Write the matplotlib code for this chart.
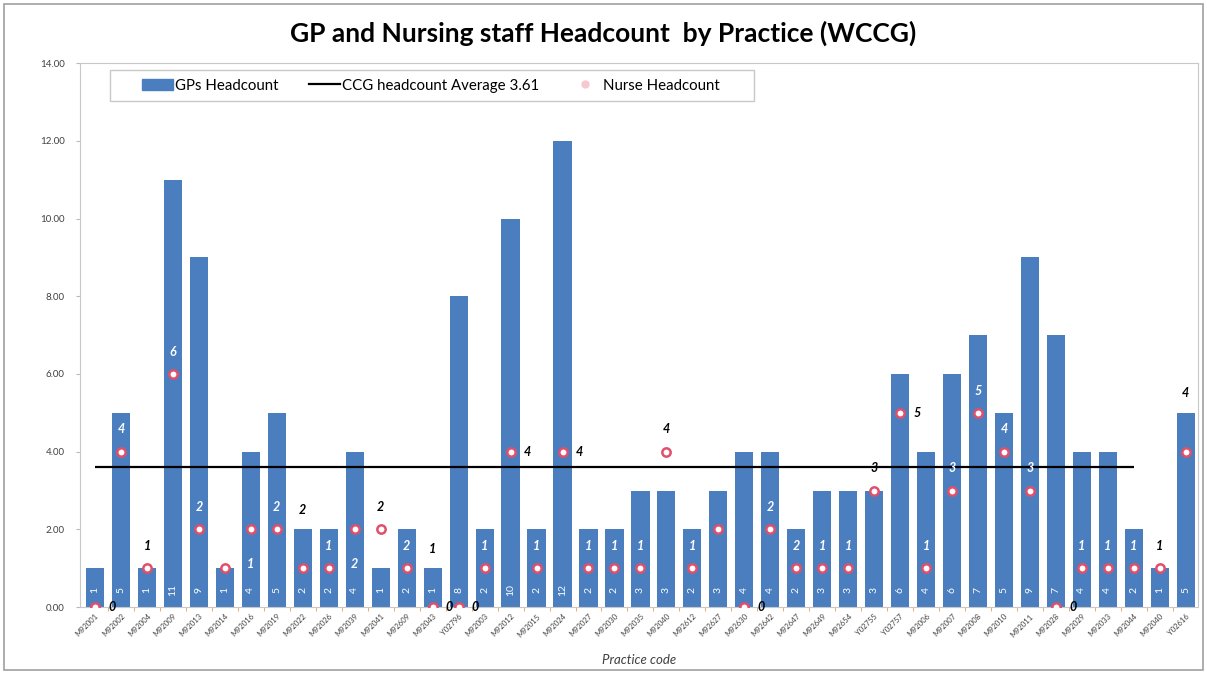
import numpy as np
import matplotlib
matplotlib.use('Agg')
from matplotlib import pyplot as plt
from matplotlib.patches import Rectangle
from matplotlib.lines import Line2D

plt.rcParams['font.family'] = ['Lato', 'DejaVu Sans']

practices = ['M92001', 'M92002', 'M92004', 'M92009', 'M92013', 'M92014', 'M92016', 'M92019',
             'M92022', 'M92026', 'M92039', 'M92041', 'M92609', 'M92043', 'Y02796', 'M92003',
             'M92012', 'M92015', 'M92024', 'M92027', 'M92030', 'M92035', 'M92040', 'M92612',
             'M92627', 'M92630', 'M92642', 'M92647', 'M92649', 'M92654', 'Y02755', 'Y02757',
             'M92006', 'M92007', 'M92008', 'M92010', 'M92011', 'M92028', 'M92029', 'M92033',
             'M92044', 'M92040', 'Y02616']
gp_headcount = [1, 5, 1, 11, 9, 1, 4, 5, 2, 2, 4, 1, 2, 1, 8, 2, 10, 2, 12, 2, 2, 3,
                3, 2, 3, 4, 4, 2, 3, 3, 3, 6, 4, 6, 7, 5, 9, 7, 4, 4, 2, 1, 5]
nurse_headcount = [0, 4, 1, 6, 2, 1, 2, 2, 1, 1, 2, 2, 1, 0, 0, 1, 4, 1, 4, 1, 1, 1,
                   4, 1, 2, 0, 2, 1, 1, 1, 3, 5, 1, 3, 5, 4, 3, 0, 1, 1, 1, 1, 4]
# data labels as shown on the chart (some are offset/odd in the original)
nurse_labels = ['0', '4', '1', '6', '2', '', '1', '2', '2', '1', '2', '2', '2', '0', '0', '1',
                '4', '1', '4', '1', '1', '1', '4', '1', '', '0', '2', '2', '1', '1', '3', '5',
                '1', '3', '5', '4', '3', '0', '1', '1', '1', '1', '4']
label_mode = ['r', 'a', 'a', 'a', 'a', '', 'b', 'a', 't', 'a', 'b', 'a', 'a', 'r', 'r', 'a',
              'r', 'a', 'r', 'a', 'a', 'a', 'a', 'a', '', 'r', 'a', 'a', 'a', 'a', 'a', 'r',
              'a', 'a', 'a', 'a', 'a', 'r', 'a', 'a', 'a', 'a', 't']
extra_labels = [(13, '1')]
ccg_average = 3.61
avg_span = (0, 40)

blue = '#4a7ebf'
nurse_col = '#e0506a'

fig = plt.figure(figsize=(12.07, 6.73), dpi=100)
ax = fig.add_axes([0.0663, 0.098, 0.926, 0.808])

x = np.arange(len(practices))
ax.bar(x, gp_headcount, width=0.7, color=blue, zorder=2)
ax.hlines(ccg_average, avg_span[0], avg_span[1], color='black', lw=1.6, zorder=3)
ax.plot(x, nurse_headcount, ls='none', marker='o', ms=6, mfc='white',
        mec=nurse_col, mew=1.8, zorder=4)

# GP values at the base of each bar
for xi, g in zip(x, gp_headcount):
    ax.text(xi, 0.45, str(g), rotation=90, ha='center', va='center',
            color='white', fontsize=7.5, zorder=5)

# nurse labels
def put_label(xi, txt, mode):
    yv = nurse_headcount[xi]
    if mode == 'r':
        off = (12, 0)
        ly = yv
    elif mode == 'b':
        off = (0, -25)
        ly = yv - 0.65
    elif mode == 't':
        yv = gp_headcount[xi]
        off = (0, 14)
        ly = yv + 0.4
    else:
        off = (0, 16)
        ly = yv + 0.42
    col = 'white' if ly < gp_headcount[xi] - 0.1 and mode != 'r' else 'black'
    ax.annotate(txt, (xi, yv), xytext=off, textcoords='offset points',
                ha='center', va='center', fontsize=9, fontweight='bold',
                fontstyle='italic', color=col, zorder=6)

for xi, (t, m) in enumerate(zip(nurse_labels, label_mode)):
    if t:
        put_label(xi, t, m)
for xi, t in extra_labels:
    put_label(xi, t, 't')

ax.set_xlim(-0.58, len(practices) - 0.54)
ax.set_ylim(0, 14)
ax.set_yticks(np.arange(0, 14.01, 2))
ax.set_yticklabels(['%.2f' % v for v in np.arange(0, 14.01, 2)], fontsize=7, color='#404040')
ax.set_xticks(x)
ax.set_xticklabels(practices, rotation=45, ha='right', rotation_mode='anchor',
                   fontsize=5.5, color='#404040')
ax.tick_params(axis='x', length=0, pad=4)
ax.set_xticks(x[:-1] + 0.5, minor=True)
ax.tick_params(axis='x', which='minor', length=3, color='#e0a060')
ax.tick_params(axis='y', length=3, color='#bbbbbb', pad=8)
ax.set_xlabel('Practice code', fontsize=9.5, fontstyle='italic', color='#404040', labelpad=11)
for s in ax.spines.values():
    s.set_color('#c8c8c8')
    s.set_linewidth(0.8)

fig.text(0.5, 0.951, 'GP and Nursing staff Headcount  by Practice (WCCG)', ha='center',
         va='center', fontsize=19, fontweight='bold', color='black')

# legend
handles = [Rectangle((0, 0), 1, 1, color=blue),
           Line2D([], [], color='black', lw=1.6),
           Line2D([], [], ls='none', marker='o', ms=5, mfc='#f6c8d0', mec='#f6c8d0')]
ax.legend(handles, ['GPs Headcount', 'CCG headcount Average 3.61', 'Nurse Headcount'],
          loc='center left', bbox_to_anchor=(0.0555, 0.959), ncol=3, frameon=False,
          fontsize=10.8, columnspacing=2.0, handlelength=2.07, handletextpad=0.15,
          borderpad=0, borderaxespad=0)
ax.add_patch(Rectangle((0.0268, 0.930), 0.576, 0.057, transform=ax.transAxes, fill=False,
                       ec='#c8c8c8', lw=1, clip_on=False, zorder=7))

fig.patches.append(Rectangle((0.003, 0.004), 0.994, 0.99, transform=fig.transFigure,
                             fill=False, ec='#a0a0a0', lw=1.2))

fig.savefig('out.png', dpi=100)
